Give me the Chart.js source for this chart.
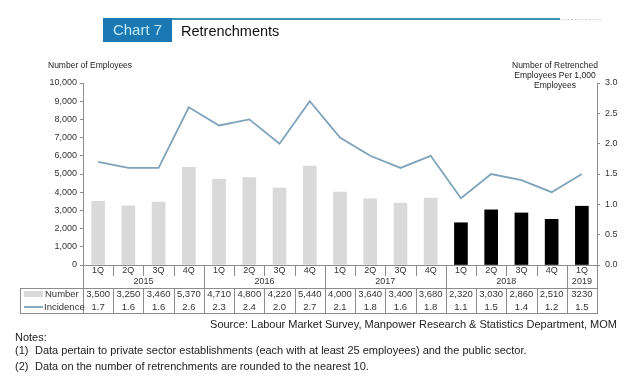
<!DOCTYPE html>
<html>
<head>
<meta charset="utf-8">
<script src="https://cdn.jsdelivr.net/npm/chart.js@4/dist/chart.umd.min.js"></script>
<style>
  html, body { margin: 0; padding: 0; background: #fff; }
  #wrap { width: 641px; height: 386px; position: relative; }
</style>
</head>
<body>
<div id="wrap"><canvas id="c" width="641" height="386"></canvas></div>
<script>
// ---- data ----
const quarters = ['1Q','2Q','3Q','4Q','1Q','2Q','3Q','4Q','1Q','2Q','3Q','4Q','1Q','2Q','3Q','4Q','1Q'];
const years = ['2015','2015','2015','2015','2016','2016','2016','2016','2017','2017','2017','2017','2018','2018','2018','2018','2019'];
const retrenched = [3500,3250,3460,5370,4710,4800,4220,5440,4000,3640,3400,3680,2320,3030,2860,2510,3230];
const incidence = [1.7,1.6,1.6,2.6,2.3,2.4,2.0,2.7,2.1,1.8,1.6,1.8,1.1,1.5,1.4,1.2,1.5];
const numberText = ['3,500','3,250','3,460','5,370','4,710','4,800','4,220','5,440','4,000','3,640','3,400','3,680','2,320','3,030','2,860','2,510','3230'];
const leftTicks = [0,1000,2000,3000,4000,5000,6000,7000,8000,9000,10000];
const rightTicks = [0,0.5,1.0,1.5,2.0,2.5,3.0];

const FONT = '"Liberation Sans", Arial, sans-serif';
const barColors = years.map(y => (+y >= 2018) ? '#000000' : '#d9d9d9');
const lineColor = '#7fa3bb';

const tablePlugin = {
  id: 'tablePlugin',
  afterDraw(chart) {
    const ctx = chart.ctx;
    const x = chart.scales.x;
    const area = chart.chartArea;
    const L = area.left, R = area.right, B = area.bottom;
    const n = quarters.length;
    const half = (x.getPixelForValue(1) - x.getPixelForValue(0)) / 2;
    const rowTop = 288, rowBot = 313, tableLeft = 20;
    ctx.save();
    ctx.strokeStyle = '#8c8c8c';
    ctx.lineWidth = 1;
    // bottom axis line
    ctx.beginPath(); ctx.moveTo(L, B + 0.5); ctx.lineTo(R, B + 0.5); ctx.stroke();
    // separators
    for (let i = 1; i < n; i++) {
      const px = Math.round(x.getPixelForValue(i) - half) + 0.5;
      const yearBreak = years[i] !== years[i - 1];
      ctx.beginPath();
      if (yearBreak) {
        ctx.moveTo(px, B); ctx.lineTo(px, rowBot);
      } else {
        ctx.moveTo(px, B); ctx.lineTo(px, B + 11);
        ctx.moveTo(px, rowTop); ctx.lineTo(px, rowBot);
      }
      ctx.stroke();
    }
    // outer lines
    ctx.beginPath();
    ctx.moveTo(Math.round(L) + 0.5, B); ctx.lineTo(Math.round(L) + 0.5, rowBot);
    ctx.moveTo(Math.round(R) + 0.5, B); ctx.lineTo(Math.round(R) + 0.5, rowBot);
    ctx.moveTo(tableLeft + 0.5, rowTop); ctx.lineTo(tableLeft + 0.5, rowBot);
    ctx.moveTo(tableLeft, rowTop + 0.5); ctx.lineTo(R, rowTop + 0.5);
    ctx.moveTo(tableLeft, rowBot + 0.5); ctx.lineTo(R + 1, rowBot + 0.5);
    ctx.stroke();

    ctx.fillStyle = '#333';
    ctx.font = '9px ' + FONT;
    ctx.textAlign = 'center';
    ctx.textBaseline = 'middle';
    // quarter labels
    for (let i = 0; i < n; i++) {
      ctx.fillText(quarters[i], x.getPixelForValue(i), B + 6);
    }
    // year labels
    let start = 0;
    for (let i = 1; i <= n; i++) {
      if (i === n || years[i] !== years[start]) {
        const cx = (x.getPixelForValue(start) + x.getPixelForValue(i - 1)) / 2;
        ctx.fillText(years[start], cx, B + 17);
        start = i;
      }
    }
    // table values
    ctx.font = '9.5px ' + FONT;
    for (let i = 0; i < n; i++) {
      ctx.fillText(numberText[i], x.getPixelForValue(i), 294.5);
      ctx.fillText(incidence[i].toFixed(1), x.getPixelForValue(i), 307.5);
    }
    // legend
    ctx.fillStyle = '#d9d9d9';
    ctx.fillRect(24, 291, 19, 6);
    ctx.strokeStyle = lineColor; ctx.lineWidth = 1.8;
    ctx.beginPath(); ctx.moveTo(24, 307); ctx.lineTo(43, 307); ctx.stroke();
    ctx.fillStyle = '#333';
    ctx.textAlign = 'left';
    ctx.font = '9.5px ' + FONT;
    ctx.fillText('Number', 45, 294.5);
    ctx.fillText('Incidence', 44, 307.5);

    // axis titles
    ctx.font = '8.5px ' + FONT;
    ctx.fillStyle = '#222';
    ctx.fillText('Number of Employees', 48, 66);
    ctx.textAlign = 'center';
    ctx.fillText('Number of Retrenched', 555, 66);
    ctx.fillText('Employees Per 1,000', 555, 76);
    ctx.fillText('Employees', 555, 86);

    // header
    ctx.fillStyle = '#1b78b3';
    ctx.fillRect(103, 18, 69, 24);
    ctx.fillStyle = '#bfe9f8';
    ctx.font = '15px ' + FONT;
    ctx.textAlign = 'center';
    ctx.fillText('Chart 7', 137.5, 31);
    ctx.strokeStyle = '#3d93b3'; ctx.lineWidth = 2;
    ctx.beginPath(); ctx.moveTo(172, 19); ctx.lineTo(560, 19); ctx.stroke();
    ctx.strokeStyle = '#c8c8c8'; ctx.lineWidth = 1; ctx.setLineDash([1.5, 2]);
    ctx.beginPath(); ctx.moveTo(561, 19.5); ctx.lineTo(602, 19.5); ctx.stroke();
    ctx.setLineDash([]);
    ctx.fillStyle = '#111';
    ctx.font = '14.5px ' + FONT;
    ctx.textAlign = 'left';
    ctx.fillText('Retrenchments', 181, 32);

    // source & notes
    ctx.font = '11px ' + FONT;
    ctx.fillStyle = '#222';
    ctx.textAlign = 'right';
    ctx.fillText('Source: Labour Market Survey, Manpower Research & Statistics Department, MOM', 617, 325);
    ctx.textAlign = 'left';
    ctx.font = '11px ' + FONT;
    ctx.fillText('Notes:', 15, 338);
    ctx.fillText('(1)', 15, 351);
    ctx.fillText('Data pertain to private sector establishments (each with at least 25 employees) and the public sector.', 35, 351);
    ctx.fillText('(2)', 15, 367);
    ctx.fillText('Data on the number of retrenchments are rounded to the nearest 10.', 35, 367);
    ctx.restore();
  }
};

new Chart(document.getElementById('c'), {
  data: {
    labels: quarters,
    datasets: [
      {
        type: 'line', label: 'Incidence', data: incidence, yAxisID: 'y1',
        borderColor: lineColor, borderWidth: 1.8, pointRadius: 0, tension: 0, order: 0
      },
      {
        type: 'bar', label: 'Number', data: retrenched, yAxisID: 'y',
        backgroundColor: barColors, barThickness: 13, order: 1
      }
    ]
  },
  options: {
    responsive: false,
    animation: false,
    devicePixelRatio: 1,
    layout: { padding: { top: 83, bottom: 121, left: 0, right: 0 } },
    plugins: { legend: { display: false }, tooltip: { enabled: false } },
    scales: {
      x: { display: false, offset: true },
      y: {
        position: 'left', min: 0, max: 10000,
        afterFit: s => { s.width = 83; },
        afterBuildTicks: s => { s.ticks = leftTicks.map(v => ({ value: v })); },
        ticks: { font: { size: 9, family: FONT }, color: '#333', padding: 3,
                 callback: v => v.toLocaleString('en-US') },
        grid: { drawOnChartArea: false, tickLength: 3, color: '#8c8c8c' },
        border: { color: '#8c8c8c' }
      },
      y1: {
        position: 'right', min: 0, max: 3,
        afterFit: s => { s.width = 44; },
        afterBuildTicks: s => { s.ticks = rightTicks.map(v => ({ value: v })); },
        ticks: { font: { size: 9, family: FONT }, color: '#333', padding: 5,
                 callback: v => Number(v).toFixed(1) },
        grid: { drawOnChartArea: false, tickLength: 3, color: '#8c8c8c' },
        border: { color: '#8c8c8c' }
      }
    }
  },
  plugins: [tablePlugin]
});
</script>
</body>
</html>
